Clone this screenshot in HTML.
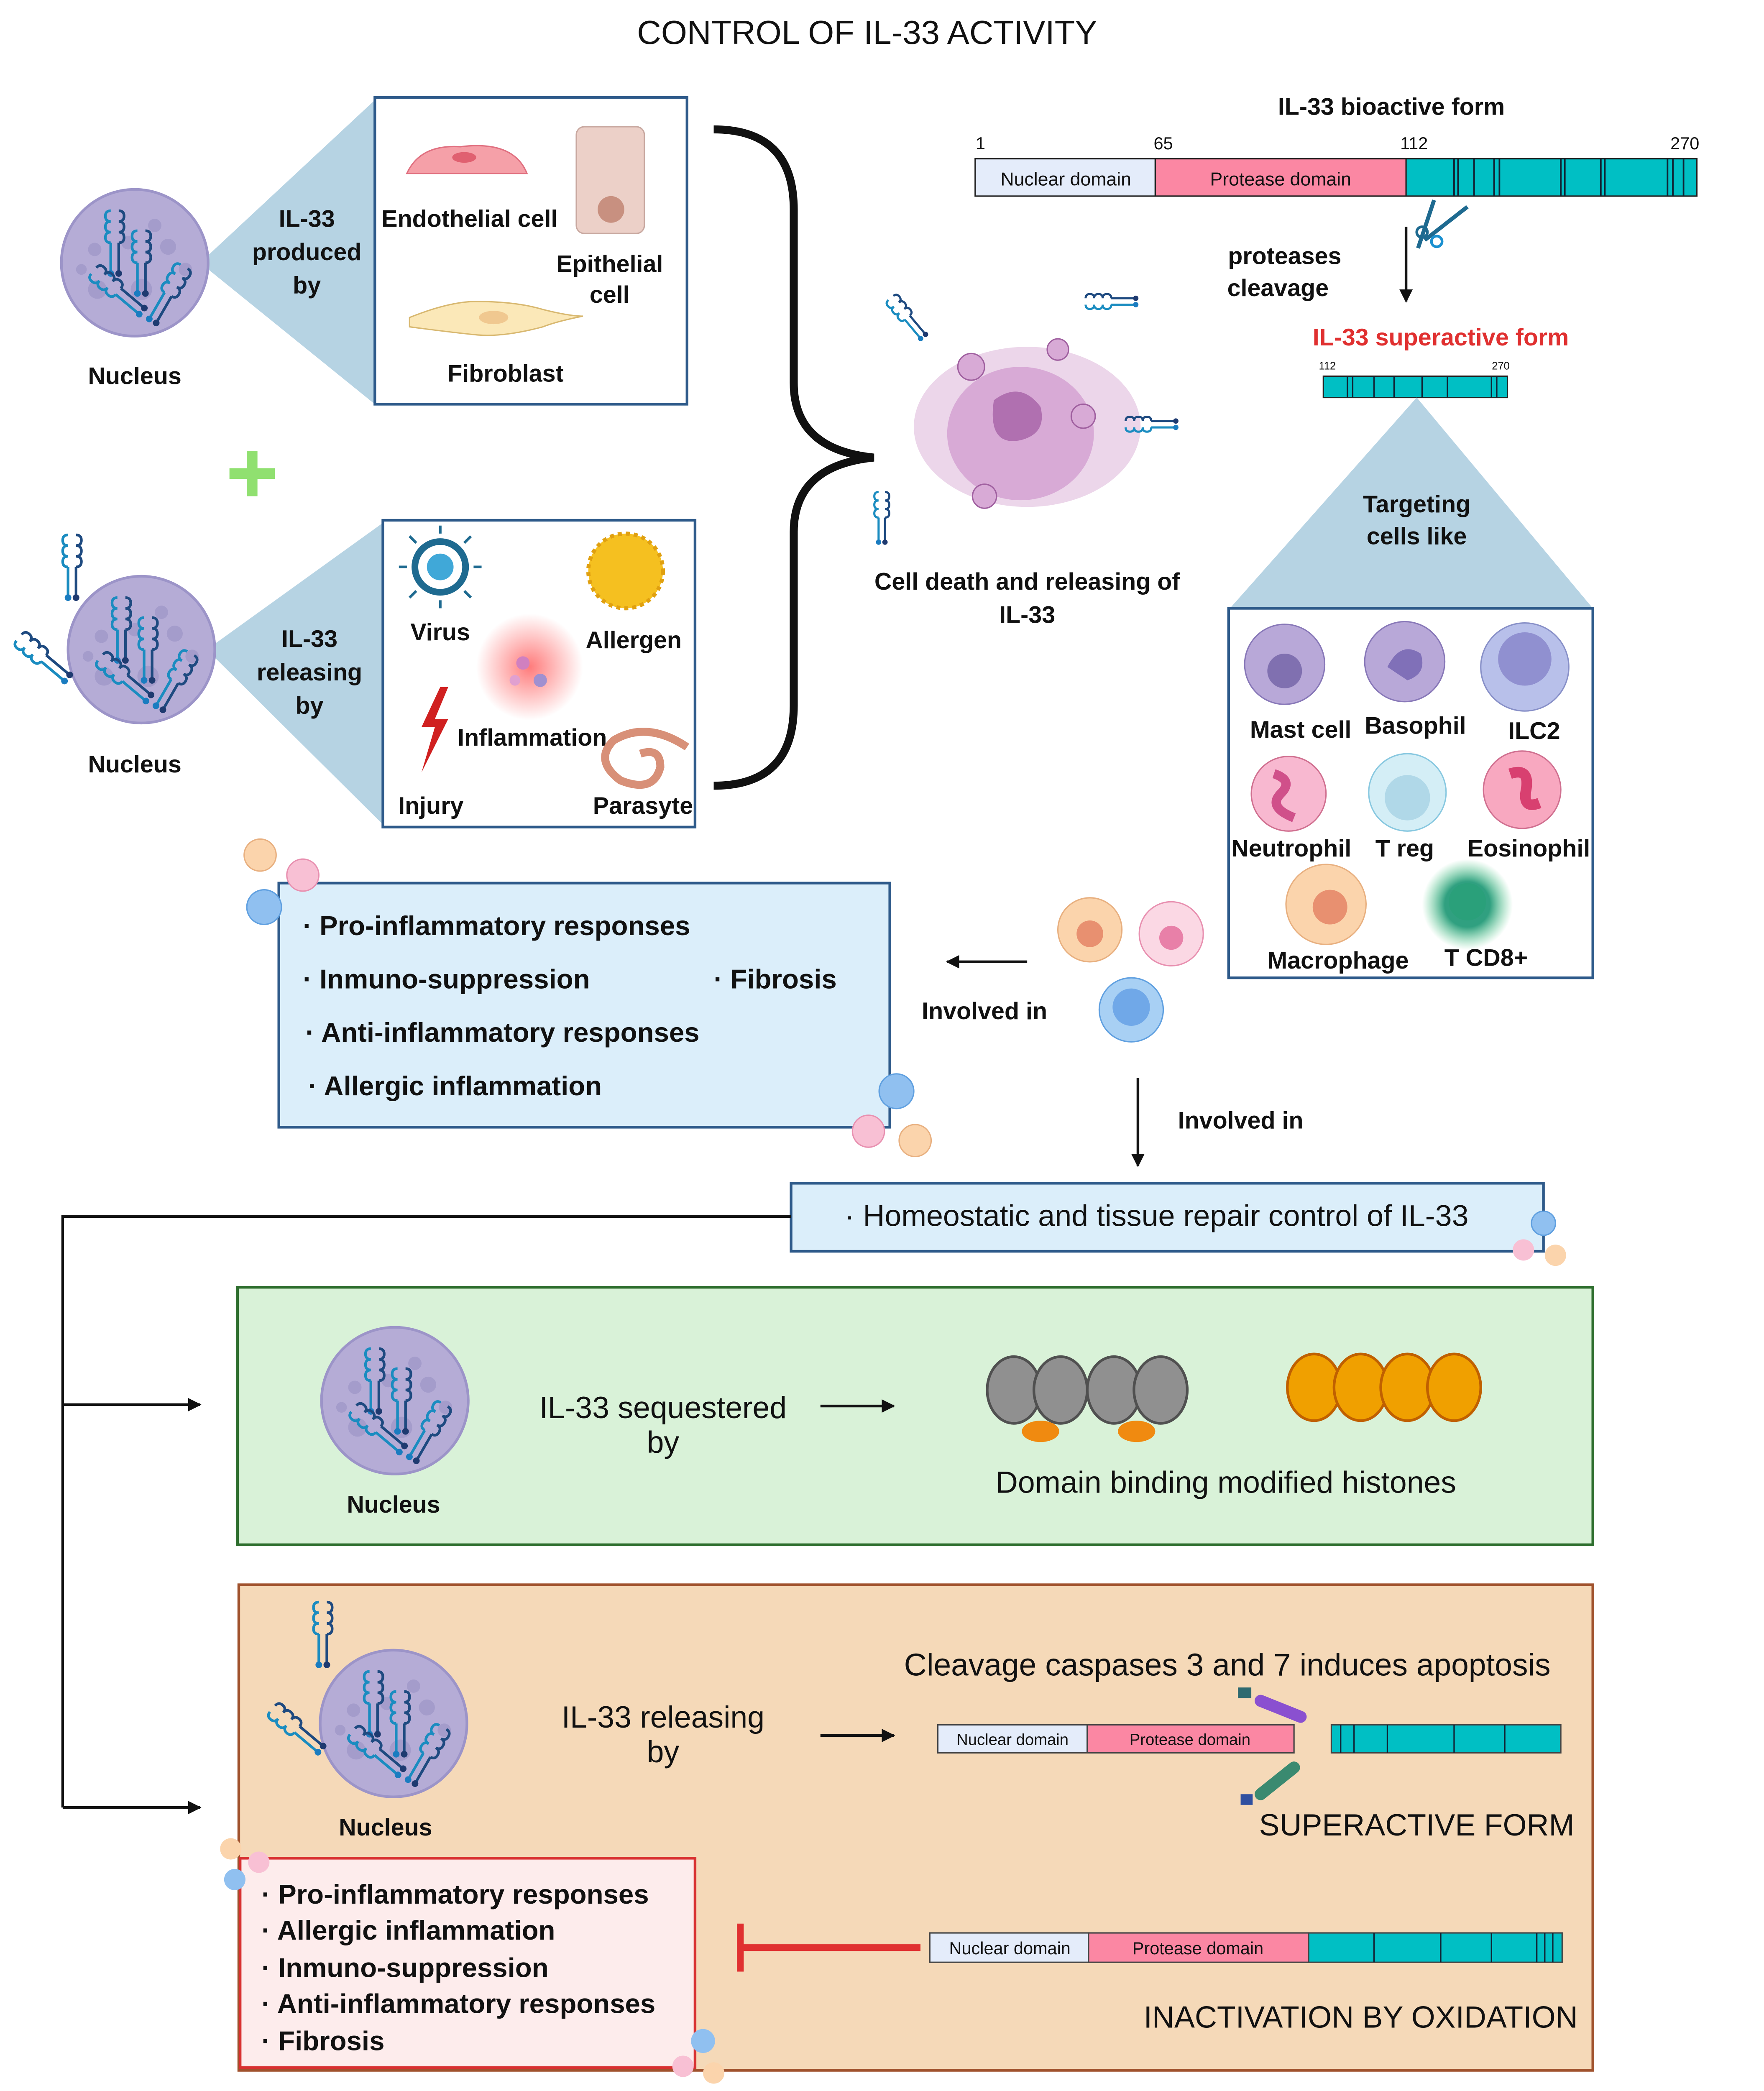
<!DOCTYPE html>
<html><head><meta charset="utf-8"><style>
html,body{margin:0;padding:0;background:#fff;width:4218px;height:5158px;overflow:hidden}
svg{display:block;position:absolute;left:0;top:0;width:4083px;height:4993px}
text{font-family:"Liberation Sans",sans-serif;fill:#111}
.l{font-size:18px;text-anchor:middle;font-weight:600}
.b{font-size:20.5px;font-weight:600}
.m{font-size:23px;text-anchor:middle}
.s{font-size:13px;text-anchor:middle}
</style></head><body>
<svg width="4083" height="4993" viewBox="0 0 1280 1565.3" preserveAspectRatio="none" xmlns="http://www.w3.org/2000/svg">
<defs>
<g id="il">
<path d="M-3,-14 q-4,0 -4,4 q0,4 4,4 q-4,0 -4,4 q0,4 4,4 q-4,0 -4,4 q0,4 4,4 M-3,10 v22" fill="none" stroke="#1a8cc0" stroke-width="2"/>
<path d="M3,-14 q4,0 4,4 q0,4 -4,4 q4,0 4,4 q0,4 -4,4 q4,0 4,4 q0,4 -4,4 M3,10 v22" fill="none" stroke="#1e4a80" stroke-width="2"/>
<circle cx="-3" cy="33" r="2.5" fill="#1a7cc0"/><circle cx="3" cy="33" r="2.5" fill="#1e3a70"/>
</g>
<g id="nuc">
<circle r="55" fill="#b5acd6" stroke="#9c94c8" stroke-width="2"/>
<circle cx="-30" cy="-10" r="5" fill="#a49ccb"/><circle cx="15" cy="-28" r="5" fill="#a49ccb"/>
<circle cx="25" cy="-12" r="6" fill="#a49ccb"/><circle cx="-28" cy="20" r="7" fill="#a49ccb"/>
<circle cx="38" cy="5" r="5" fill="#a49ccb"/><circle cx="5" cy="20" r="8" fill="#a49ccb"/>
<circle cx="-40" cy="5" r="4" fill="#a49ccb"/><circle cx="-5" cy="-15" r="5" fill="#a49ccb"/>
<use href="#il" x="-15" y="-25"/><use href="#il" x="5" y="-10"/>
<use href="#il" transform="translate(-20,15) rotate(-50)"/><use href="#il" transform="translate(30,15) rotate(30)"/>
</g>
<radialGradient id="glow"><stop offset="0" stop-color="#ff5a5a" stop-opacity=".8"/><stop offset="1" stop-color="#ff5a5a" stop-opacity="0"/></radialGradient>
<radialGradient id="gglow"><stop offset=".5" stop-color="#30a080"/><stop offset="1" stop-color="#60d090" stop-opacity="0"/></radialGradient>
<marker id="ar" markerWidth="10" markerHeight="10" refX="9" refY="5" orient="auto" markerUnits="userSpaceOnUse"><path d="M0,0 L10,5 L0,10z" fill="#111"/></marker>
</defs>

<text x="650" y="33" font-size="25" text-anchor="middle">CONTROL OF IL-33 ACTIVITY</text>

<polygon points="150,197 281,75 281,303" fill="#b6d3e3"/>
<use href="#nuc" x="101" y="197"/>
<text class="l" x="101" y="288">Nucleus</text>
<text class="l" x="230" y="170">IL-33</text><text class="l" x="230" y="195">produced</text><text class="l" x="230" y="220">by</text>
<rect x="281" y="73" width="234" height="230" fill="#fff" stroke="#2e5a8a" stroke-width="2"/>
<path d="M305,130 q10,-22 40,-20 q40,-5 50,20z" fill="#f5a0a8" stroke="#e07080"/>
<ellipse cx="348" cy="118" rx="9" ry="4" fill="#e06070"/>
<text class="l" x="352" y="170">Endothelial cell</text>
<rect x="432" y="95" width="51" height="80" rx="6" fill="#ecd0c8" stroke="#c8a8a0"/>
<circle cx="458" cy="157" r="10" fill="#c89080"/>
<text class="l" x="457" y="204">Epithelial</text><text class="l" x="457" y="227">cell</text>
<path d="M307,238 q30,-12 50,-12 q30,0 50,6 q20,5 30,5 q-20,4 -30,8 q-30,8 -50,6 q-20,-2 -50,-6z" fill="#fbe8b8" stroke="#d8b870"/>
<ellipse cx="370" cy="238" rx="11" ry="5" fill="#f0c890"/>
<text class="l" x="379" y="286">Fibroblast</text>

<path d="M189,338 v34 M172,355 h34" stroke="#90e070" stroke-width="8"/>

<polygon points="155,487 287,392 287,618" fill="#b6d3e3"/>
<use href="#nuc" x="106" y="487"/>
<use href="#il" x="54" y="415"/><use href="#il" transform="translate(25,487) rotate(-50)"/>
<text class="l" x="101" y="579">Nucleus</text>
<text class="l" x="232" y="485">IL-33</text><text class="l" x="232" y="510">releasing</text><text class="l" x="232" y="535">by</text>
<rect x="287" y="390" width="234" height="230" fill="#fff" stroke="#2e5a8a" stroke-width="2"/>
<circle cx="330" cy="425" r="19" fill="none" stroke="#1e6a90" stroke-width="5"/>
<circle cx="330" cy="425" r="10" fill="#40a8d8"/>
<g stroke="#1e6a90" stroke-width="2"><path d="M330,400v-6M330,450v6M305,425h-6M355,425h6M312,407l-5,-5M348,443l5,5M348,407l5,-5M312,443l-5,5"/></g>
<text class="l" x="330" y="480">Virus</text>
<circle cx="469" cy="428" r="28" fill="#f5c020" stroke="#e0a010" stroke-width="3" stroke-dasharray="3 3"/>
<text class="l" x="475" y="486">Allergen</text>
<circle cx="397" cy="500" r="40" fill="url(#glow)"/>
<circle cx="392" cy="497" r="5" fill="#d080c0"/><circle cx="405" cy="510" r="5" fill="#a090d0"/><circle cx="386" cy="510" r="4" fill="#e0a0d0"/>
<text class="l" x="399" y="559">Inflammation</text>
<path d="M330,515 l-14,30 h10 l-10,34 l20,-40 h-10 l10,-24z" fill="#d02020"/>
<text class="l" x="323" y="610">Injury</text>
<path d="M515,560 q-30,-20 -55,-5 q-15,15 5,30 q25,10 30,-10 q0,-15 -15,-10" fill="none" stroke="#d89078" stroke-width="6"/>
<text class="l" x="482" y="610">Parasyte</text>

<path d="M535,97 q60,0 60,60 v130 q0,50 60,56 q-60,6 -60,56 v130 q0,60 -60,60" fill="none" stroke="#111" stroke-width="6"/>

<ellipse cx="770" cy="320" rx="85" ry="60" fill="#ecd6ea"/>
<ellipse cx="765" cy="325" rx="55" ry="50" fill="#d8aad6"/>
<path d="M745,300 q20,-15 35,5 q5,20 -15,25 q-25,5 -20,-30z" fill="#b070b0"/>
<circle cx="728" cy="275" r="10" fill="#d8aad6" stroke="#a060a0"/><circle cx="793" cy="262" r="8" fill="#d8aad6" stroke="#a060a0"/>
<circle cx="812" cy="312" r="9" fill="#d8aad6" stroke="#a060a0"/><circle cx="738" cy="372" r="9" fill="#d8aad6" stroke="#a060a0"/>
<use href="#il" transform="translate(675,232) rotate(-40) scale(.8)"/>
<use href="#il" transform="translate(825,226) rotate(-90) scale(.8)"/>
<use href="#il" transform="translate(855,318) rotate(-90) scale(.8)"/>
<use href="#il" transform="translate(661,380) scale(.8)"/>
<text class="l" x="770" y="442">Cell death and releasing of</text>
<text class="l" x="770" y="467">IL-33</text>

<text class="l" x="1043" y="86">IL-33 bioactive form</text>
<text class="s" x="735" y="112">1</text><text class="s" x="872" y="112">65</text><text class="s" x="1060" y="112">112</text><text class="s" x="1263" y="112">270</text>
<rect x="731" y="119" width="135" height="28" fill="#e4ecfa" stroke="#222"/>
<rect x="866" y="119" width="188" height="28" fill="#fb87a3" stroke="#222"/>
<rect x="1054" y="119" width="218" height="28" fill="#00bfc4" stroke="#222"/>
<g stroke="#123" stroke-width="1.2"><path d="M1090,119v28M1093,119v28M1105,119v28M1120,119v28M1124,119v28M1170,119v28M1173,119v28M1200,119v28M1203,119v28M1250,119v28M1254,119v28M1262,119v28"/></g>
<text x="799" y="139" font-size="14" text-anchor="middle">Nuclear domain</text>
<text x="960" y="139" font-size="14" text-anchor="middle">Protease domain</text>
<path d="M1068,180 l32,-25 M1075,150 l-12,36" stroke="#1e6a90" stroke-width="3"/>
<circle cx="1066" cy="174" r="4" fill="none" stroke="#1e6a90" stroke-width="2"/><circle cx="1077" cy="181" r="4" fill="none" stroke="#1a90d0" stroke-width="2"/>
<line x1="1054" y1="170" x2="1054" y2="226" stroke="#111" stroke-width="2" marker-end="url(#ar)"/>
<text class="l" x="963" y="198">proteases</text><text class="l" x="958" y="222">cleavage</text>
<text x="1080" y="259" font-size="18" font-weight="600" style="fill:#e03030" text-anchor="middle">IL-33 superactive form</text>
<text x="995" y="277" font-size="8" text-anchor="middle">112</text><text x="1125" y="277" font-size="8" text-anchor="middle">270</text>
<rect x="992" y="282" width="138" height="16" fill="#00bfc4" stroke="#222"/>
<g stroke="#123"><path d="M1010,282v16M1014,282v16M1030,282v16M1045,282v16M1066,282v16M1085,282v16M1118,282v16M1122,282v16"/></g>
<polygon points="1062,298 922,456 1194,456" fill="#b6d3e3"/>
<text class="l" x="1062" y="384">Targeting</text><text class="l" x="1062" y="408">cells like</text>
<rect x="921" y="456" width="273" height="277" fill="#fff" stroke="#2e5a8a" stroke-width="2"/>
<circle cx="963" cy="498" r="30" fill="#b8a8d8" stroke="#8878b8"/><circle cx="963" cy="503" r="13" fill="#8070b0"/>
<text class="l" x="975" y="553">Mast cell</text>
<circle cx="1053" cy="496" r="30" fill="#b8a8d8" stroke="#8878b8"/><path d="M1040,500 q10,-20 25,-10 q5,15 -10,20z" fill="#8070b8"/>
<text class="l" x="1061" y="550">Basophil</text>
<circle cx="1143" cy="500" r="33" fill="#b8c0ea" stroke="#8890c8"/><circle cx="1143" cy="494" r="20" fill="#9090d0"/>
<text class="l" x="1150" y="554">ILC2</text>
<circle cx="966" cy="595" r="28" fill="#f8b8d0" stroke="#d07090"/><path d="M955,580 q15,5 5,15 q-10,10 10,18" fill="none" stroke="#d0508a" stroke-width="7"/>
<text class="l" x="968" y="642">Neutrophil</text>
<circle cx="1055" cy="594" r="29" fill="#d4eef6" stroke="#88c8e0"/><circle cx="1055" cy="598" r="17" fill="#b0d8e8"/>
<text class="l" x="1053" y="642">T reg</text>
<circle cx="1141" cy="592" r="29" fill="#f8a8c0" stroke="#d07090"/><path d="M1132,580 q15,-5 12,12 q-3,15 10,10" fill="none" stroke="#d84070" stroke-width="8"/>
<text class="l" x="1146" y="642">Eosinophil</text>
<circle cx="994" cy="678" r="30" fill="#fbd4ac" stroke="#e8b080"/><circle cx="997" cy="680" r="13" fill="#e89070"/>
<text class="l" x="1003" y="726">Macrophage</text>
<circle cx="1100" cy="678" r="34" fill="url(#gglow)"/><circle cx="1100" cy="676" r="14" fill="#2aa07a"/>
<text class="l" x="1114" y="724">T CD8+</text>

<rect x="209" y="662" width="458" height="183" fill="#dbeefa" stroke="#2e5a8a" stroke-width="2"/>
<text class="b" x="227" y="701">· Pro-inflammatory responses</text>
<text class="b" x="227" y="741">· Inmuno-suppression</text>
<text class="b" x="535" y="741">· Fibrosis</text>
<text class="b" x="229" y="781">· Anti-inflammatory responses</text>
<text class="b" x="231" y="821">· Allergic inflammation</text>
<circle cx="195" cy="641" r="12" fill="#fbd4ac" stroke="#e8b080"/><circle cx="227" cy="656" r="12" fill="#f8c0d4" stroke="#e890b0"/><circle cx="198" cy="680" r="13" fill="#90c0f0" stroke="#60a0e0"/>
<circle cx="672" cy="818" r="13" fill="#90c0f0" stroke="#60a0e0"/><circle cx="651" cy="848" r="12" fill="#f8c0d4" stroke="#e890b0"/><circle cx="686" cy="855" r="12" fill="#fbd4ac" stroke="#e8b080"/>
<line x1="770" y1="721" x2="710" y2="721" stroke="#111" stroke-width="2" marker-end="url(#ar)"/>
<text class="l" x="738" y="764">Involved in</text>
<circle cx="817" cy="697" r="24" fill="#fbd4ac" stroke="#e8b080"/><circle cx="817" cy="700" r="10" fill="#e89070"/>
<circle cx="878" cy="700" r="24" fill="#fbd8e4" stroke="#e890b0"/><circle cx="878" cy="703" r="9" fill="#e880a8"/>
<circle cx="848" cy="757" r="24" fill="#a8d0f4" stroke="#60a0e0"/><circle cx="848" cy="755" r="14" fill="#70a8e8"/>
<line x1="853" y1="808" x2="853" y2="874" stroke="#111" stroke-width="2" marker-end="url(#ar)"/>
<text class="l" x="930" y="846">Involved in</text>
<rect x="593" y="887" width="564" height="51" fill="#dbeefa" stroke="#2e5a8a" stroke-width="2"/>
<text x="867" y="919" font-size="22.5" text-anchor="middle">· Homeostatic and tissue repair control of IL-33</text>
<circle cx="1157" cy="917" r="9" fill="#90c0f0" stroke="#60a0e0"/><circle cx="1142" cy="937" r="8" fill="#f8c0d4"/><circle cx="1166" cy="941" r="8" fill="#fbd4ac"/>

<path d="M593,912 H47 V1355" fill="none" stroke="#111" stroke-width="2"/>
<line x1="47" y1="1053" x2="150" y2="1053" stroke="#111" stroke-width="2" marker-end="url(#ar)"/>
<line x1="47" y1="1355" x2="150" y2="1355" stroke="#111" stroke-width="2" marker-end="url(#ar)"/>

<rect x="178" y="965" width="1016" height="193" fill="#d9f2d8" stroke="#2e6e2e" stroke-width="2"/>
<use href="#nuc" x="296" y="1050"/>
<text class="l" x="295" y="1134">Nucleus</text>
<text class="m" x="497" y="1063">IL-33 sequestered</text><text class="m" x="497" y="1089">by</text>
<line x1="615" y1="1054" x2="670" y2="1054" stroke="#111" stroke-width="2" marker-end="url(#ar)"/>
<g fill="#909090" stroke="#505050" stroke-width="2">
<ellipse cx="760" cy="1042" rx="20" ry="25"/><ellipse cx="795" cy="1042" rx="20" ry="25"/><ellipse cx="835" cy="1042" rx="20" ry="25"/><ellipse cx="870" cy="1042" rx="20" ry="25"/></g>
<g fill="#f08a10"><ellipse cx="780" cy="1073" rx="14" ry="8"/><ellipse cx="852" cy="1073" rx="14" ry="8"/></g>
<g fill="#f0a000" stroke="#c06000" stroke-width="2">
<ellipse cx="985" cy="1040" rx="20" ry="25"/><ellipse cx="1020" cy="1040" rx="20" ry="25"/><ellipse cx="1055" cy="1040" rx="20" ry="25"/><ellipse cx="1090" cy="1040" rx="20" ry="25"/></g>
<text class="m" x="919" y="1119">Domain binding modified histones</text>

<rect x="179" y="1188" width="1015" height="364" fill="#f5d9b8" stroke="#a0522d" stroke-width="2"/>
<use href="#nuc" x="295" y="1292"/>
<use href="#il" x="242" y="1215"/><use href="#il" transform="translate(215,1290) rotate(-50)"/>
<text class="l" x="289" y="1376">Nucleus</text>
<text class="m" x="497" y="1295">IL-33 releasing</text><text class="m" x="497" y="1321">by</text>
<line x1="615" y1="1301" x2="670" y2="1301" stroke="#111" stroke-width="2" marker-end="url(#ar)"/>
<text x="920" y="1256" font-size="23.5" text-anchor="middle">Cleavage caspases 3 and 7 induces apoptosis</text>
<rect x="703" y="1293" width="112" height="21" fill="#e4ecfa" stroke="#444"/>
<rect x="815" y="1293" width="155" height="21" fill="#fb87a3" stroke="#444"/>
<rect x="998" y="1293" width="172" height="21" fill="#00bfc4" stroke="#444"/>
<g stroke="#123"><path d="M1005,1293v21M1015,1293v21M1040,1293v21M1090,1293v21M1128,1293v21"/></g>
<text x="759" y="1308" font-size="12" text-anchor="middle">Nuclear domain</text>
<text x="892" y="1308" font-size="12" text-anchor="middle">Protease domain</text>
<path d="M945,1275 l30,12" stroke="#8a50d0" stroke-width="9" stroke-linecap="round"/><rect x="928" y="1265" width="10" height="8" fill="#2e6a70"/>
<path d="M945,1345 l25,-20" stroke="#3a8a70" stroke-width="9" stroke-linecap="round"/><rect x="930" y="1345" width="9" height="8" fill="#3050a0"/>
<text class="m" x="1062" y="1376">SUPERACTIVE FORM</text>
<rect x="697" y="1449" width="119" height="22" fill="#e4ecfa" stroke="#444"/>
<rect x="816" y="1449" width="165" height="22" fill="#fb87a3" stroke="#444"/>
<rect x="981" y="1449" width="190" height="22" fill="#00bfc4" stroke="#444"/>
<g stroke="#123"><path d="M1030,1449v22M1080,1449v22M1118,1449v22M1152,1449v22M1158,1449v22M1164,1449v22"/></g>
<text x="757" y="1465" font-size="13" text-anchor="middle">Nuclear domain</text>
<text x="898" y="1465" font-size="13" text-anchor="middle">Protease domain</text>
<path d="M690,1460 H555 M555,1442 V1478" stroke="#e03030" stroke-width="5"/>
<text class="m" x="1020" y="1520">INACTIVATION BY OXIDATION</text>
<rect x="180" y="1393" width="341" height="157" fill="#fdecec" stroke="#d83030" stroke-width="2"/>
<text class="b" x="196" y="1427">· Pro-inflammatory responses</text>
<text class="b" x="196" y="1454">· Allergic inflammation</text>
<text class="b" x="196" y="1482">· Inmuno-suppression</text>
<text class="b" x="196" y="1509">· Anti-inflammatory responses</text>
<text class="b" x="196" y="1537">· Fibrosis</text>
<circle cx="173" cy="1386" r="8" fill="#fbd4ac"/><circle cx="194" cy="1396" r="8" fill="#f8c0d4"/><circle cx="176" cy="1409" r="8" fill="#90c0f0"/>
<circle cx="527" cy="1530" r="9" fill="#90c0f0"/><circle cx="512" cy="1549" r="8" fill="#f8c0d4"/><circle cx="535" cy="1554" r="8" fill="#fbd4ac"/>
</svg>
</body></html>
